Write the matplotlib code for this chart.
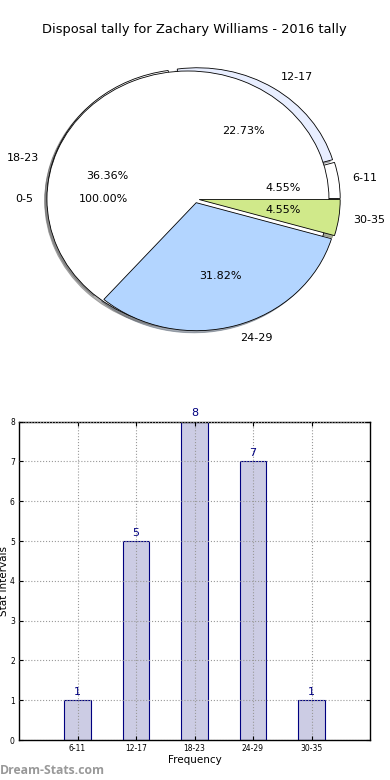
import matplotlib
matplotlib.use('Agg')
import matplotlib.pyplot as plt
import numpy as np
from matplotlib.patches import Shadow

# pie data
pie_labels = ['6-11', '12-17', '18-23', '24-29', '30-35']
pie_counts = [1, 5, 8, 7, 1]
pie_colors = ['#ffffff', '#e8eeff', '#ffffff', '#b3d5ff', '#d0e98a']
pie_explode = [0.03, 0.03, 0.05, 0.03, 0.03]

# the empty 0-5 bin shows up as a full white disc (100.00%)
empty_labels = ['0-5']
empty_counts = [1]

# bar data
bar_labels = ['6-11', '12-17', '18-23', '24-29', '30-35']
bar_counts = [1, 5, 8, 7, 1]

W, H = 390, 780
fig = plt.figure(figsize=(W / 100, H / 100), dpi=100)
fig.patch.set_facecolor('white')

fig.text(194 / W, 1 - 30 / H, 'Disposal tally for Zachary Williams - 2016 tally',
         ha='center', va='center', fontsize=9.4)

# Pie axes - centre at (195, 199) px, radius 141 px wide, 128 px tall
rx, ry = 141, 128
xl, yl = 1.35, 1.25
ax = fig.add_axes([(195 - xl * rx) / W, (H - 199 - yl * ry) / H, 2 * xl * rx / W, 2 * yl * ry / H])

wedge_kw = dict(edgecolor='black', linewidth=0.6)
shadow_kw = dict(ox=-0.012, oy=-0.012, shade=0.6)
wedges, texts, autotexts = ax.pie(pie_counts, labels=pie_labels, colors=pie_colors,
                                  explode=pie_explode, autopct='%1.2f%%', shadow=shadow_kw,
                                  startangle=0, wedgeprops=wedge_kw,
                                  textprops=dict(fontsize=8))
disc, dtexts, dautotexts = ax.pie(empty_counts, labels=empty_labels, colors=['white'],
                                  explode=[0.05], autopct='%1.2f%%', shadow=shadow_kw,
                                  startangle=0, wedgeprops=wedge_kw,
                                  textprops=dict(fontsize=8))

# stacking: shadows at the bottom, disc hides the first three slices,
# last two sit on top
for i, w in enumerate(wedges):
    w.set_zorder(1 if i < 3 else 3)
disc[0].set_zorder(2)
for p in ax.patches:
    if isinstance(p, Shadow):
        p.set_zorder(0.5)
for t in texts + autotexts + dtexts + dautotexts:
    t.set_zorder(5)

ax.set_aspect('auto')
ax.set_xlim(-xl, xl)
ax.set_ylim(-yl, yl)
ax.axis('off')

# Bar axes
ax2 = fig.add_axes([19 / W, 40 / H, 351 / W, 318.3 / H])
x = np.arange(1, len(bar_counts) + 1)
ax2.bar(x, bar_counts, width=0.45, color='#ccccE4', edgecolor='#000080', linewidth=0.8, zorder=1)
for xi, v in zip(x, bar_counts):
    ax2.annotate(str(v), (xi, v), xytext=(0, 2.5), textcoords='offset points',
                 ha='center', va='bottom', color='#000080', fontsize=8, annotation_clip=False)

ax2.set_xlim(0, 6)
ax2.set_ylim(0, 8)
ax2.set_xticks(x)
ax2.set_xticklabels(bar_labels)
ax2.set_yticks(range(0, 9))
ax2.tick_params(direction='in', length=3, top=True, right=True, labelsize=5.5, pad=3)
ax2.grid(True, linestyle=':', color='#999999', linewidth=0.8, zorder=2)
ax2.set_axisbelow(False)
for s in ax2.spines.values():
    s.set_linewidth(1)
ax2.set_xlabel('Frequency', fontsize=7.5, labelpad=1)
ax2.set_ylabel('Stat Intervals', fontsize=7.5, labelpad=1)

fig.text(0, 10 / H, 'Dream-Stats.com', ha='left', va='center', fontsize=8.8,
         family=['Open Sans', 'DejaVu Sans'], fontweight='bold', color='#999999')

fig.savefig('out.png', dpi=100)
